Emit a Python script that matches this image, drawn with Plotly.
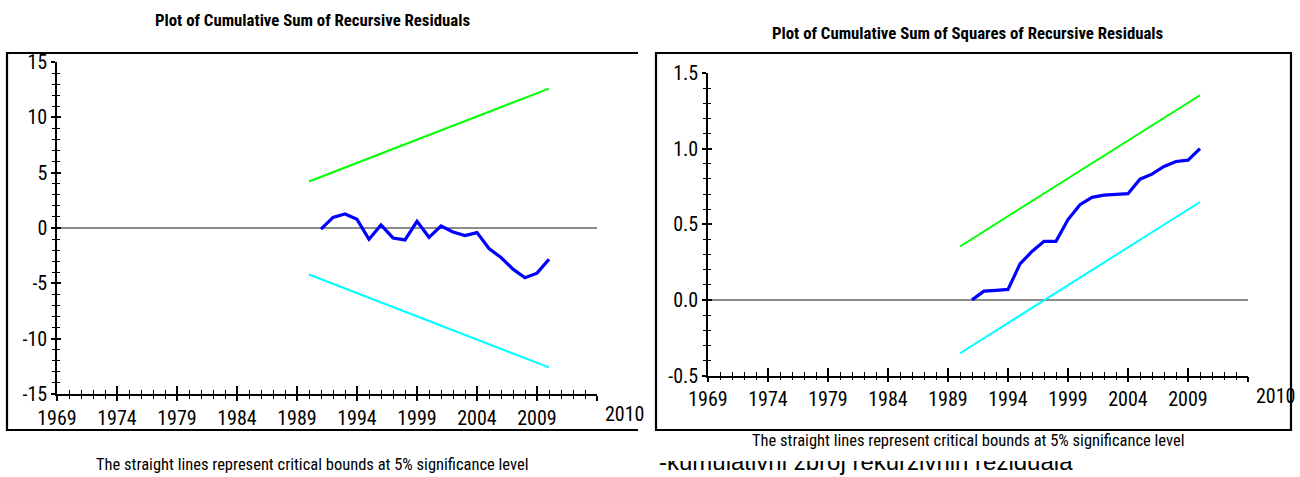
import plotly.graph_objects as go

# ---------------- data ----------------
cusum_years = [1991, 1992, 1993, 1994, 1995, 1996, 1997, 1998, 1999, 2000,
               2001, 2002, 2003, 2004, 2005, 2006, 2007, 2008, 2009, 2010]
cusum_values = [-0.1, 0.96, 1.26, 0.78, -1.02, 0.27, -0.9, -1.08, 0.6, -0.84,
                0.18, -0.36, -0.69, -0.42, -1.86, -2.67, -3.72, -4.5, -4.08, -2.82]
bound_years = [1990, 2010]
cusum_upper = [4.2, 12.6]
cusum_lower = [-4.2, -12.6]

cusumsq_years = cusum_years
cusumsq_values = [0.0, 0.058, 0.063, 0.069, 0.238, 0.32, 0.387, 0.387, 0.531, 0.629,
                  0.678, 0.693, 0.697, 0.702, 0.798, 0.831, 0.882, 0.915, 0.924, 1.0]
cusumsq_upper = [0.353, 1.353]
cusumsq_lower = [-0.353, 0.647]

tick_years = [1969, 1974, 1979, 1984, 1989, 1994, 1999, 2004, 2009, 2014]
tick_labels = ["1969", "1974", "1979", "1984", "1989", "1994", "1999", "2004", "2009", ""]
end_label = "2010"
x_range = [1969, 2014]

cusum_ticks = [-15, -10, -5, 0, 5, 10, 15]
cusum_tick_labels = ["-15", "-10", "-5", "0", "5", "10", "15"]
cusumsq_ticks = [-0.5, 0.0, 0.5, 1.0, 1.5]
cusumsq_tick_labels = ["-0.5", "0.0", "0.5", "1.0", "1.5"]

title_left = "Plot of Cumulative Sum of Recursive Residuals"
title_right = "Plot of Cumulative Sum of Squares of Recursive Residuals"
caption = "The straight lines represent critical bounds at 5% significance level"
stray_text = "-kumulativni zbroj rekurzivnih reziduala"

# ---------------- style ----------------
NARROW = "Liberation Sans Narrow, Roboto Condensed, Open Sans Condensed, DejaVu Sans Condensed, Liberation Sans, sans-serif"
W, H = 1300, 477
BLUE, GREEN, CYAN = "#0000FF", "#00FF00", "#00FFFF"

def px_x(p):
    return p / W

def px_y(p):
    return 1 - p / H

fig = go.Figure()

fig.add_trace(go.Scatter(x=bound_years, y=cusum_upper, mode="lines",
                         line=dict(color=GREEN, width=2), xaxis="x", yaxis="y"))
fig.add_trace(go.Scatter(x=bound_years, y=cusum_lower, mode="lines",
                         line=dict(color=CYAN, width=2), xaxis="x", yaxis="y"))
fig.add_trace(go.Scatter(x=cusum_years, y=cusum_values, mode="lines",
                         line=dict(color=BLUE, width=3.2), xaxis="x", yaxis="y"))
fig.add_trace(go.Scatter(x=bound_years, y=cusumsq_upper, mode="lines",
                         line=dict(color=GREEN, width=2), xaxis="x2", yaxis="y2"))
fig.add_trace(go.Scatter(x=bound_years, y=cusumsq_lower, mode="lines",
                         line=dict(color=CYAN, width=2), xaxis="x2", yaxis="y2"))
fig.add_trace(go.Scatter(x=cusumsq_years, y=cusumsq_values, mode="lines",
                         line=dict(color=BLUE, width=3.2), xaxis="x2", yaxis="y2"))
fig.add_trace(go.Scatter(x=[None], y=[None], xaxis="x3", yaxis="y3", showlegend=False))
fig.add_trace(go.Scatter(x=[None], y=[None], xaxis="x4", yaxis="y4", showlegend=False))
fig.add_trace(go.Scatter(x=[4], y=[1], mode="text", text=[stray_text],
                         textposition="top right", cliponaxis=True,
                         textfont=dict(family="Liberation Sans, Arial, sans-serif", size=24, color="#000"),
                         xaxis="x5", yaxis="y5", showlegend=False, hoverinfo="skip"))

tickfont = dict(family=NARROW, size=20, color="#000")

def xaxis_base(domain, anchor):
    return dict(domain=domain, anchor=anchor, range=x_range, showgrid=False, zeroline=False,
                automargin=False,
                showline=True, linecolor="#000", linewidth=1.5,
                tickmode="array", tickvals=tick_years, ticktext=tick_labels,
                ticks="outside", ticklen=5, tickwidth=1.5, tickcolor="#000",
                minor=dict(tickmode="linear", tick0=1969, dtick=1, ticks="outside",
                           ticklen=3, tickwidth=1, tickcolor="#000"),
                tickfont=tickfont, fixedrange=True)

def xaxis_over(over, anchor):
    return dict(overlaying=over, anchor=anchor, range=x_range, showgrid=False, zeroline=False,
                automargin=False, showline=False, showticklabels=False,
                tickmode="array", tickvals=tick_years,
                ticks="inside", ticklen=8, tickwidth=1.5, tickcolor="#000",
                minor=dict(tickmode="linear", tick0=1969, dtick=1, ticks="inside",
                           ticklen=4, tickwidth=1, tickcolor="#000"),
                fixedrange=True)

def yaxis_base(domain, anchor, rng, tv, tt, mdtick):
    return dict(domain=domain, anchor=anchor, range=rng, showgrid=False, automargin=False,
                zeroline=True, zerolinecolor="#8c8c8c", zerolinewidth=1.5,
                showline=True, linecolor="#000", linewidth=1.5,
                tickmode="array", tickvals=tv, ticktext=tt,
                ticks="outside", ticklen=4, tickwidth=1.5, tickcolor="#000",
                minor=dict(tickmode="linear", tick0=rng[0], dtick=mdtick, ticks="outside",
                           ticklen=3, tickwidth=1, tickcolor="#000"),
                tickfont=tickfont, fixedrange=True)

def yaxis_over(over, anchor, rng, tv, mdtick):
    return dict(overlaying=over, anchor=anchor, range=rng, showgrid=False, zeroline=False,
                automargin=False, showline=False, showticklabels=False,
                tickmode="array", tickvals=tv,
                ticks="inside", ticklen=4, tickwidth=1.5, tickcolor="#000",
                minor=dict(tickmode="linear", tick0=rng[0], dtick=mdtick, ticks="inside",
                           ticklen=3, tickwidth=1, tickcolor="#000"),
                fixedrange=True)

left_xd = [px_x(57), px_x(597)]
left_yd = [px_y(394), px_y(62)]
right_xd = [px_x(708), px_x(1248)]
right_yd = [px_y(375.5), px_y(73)]

fig.update_layout(
    width=W, height=H, margin=dict(l=0, r=0, t=0, b=0, pad=0, autoexpand=False),
    paper_bgcolor="white", plot_bgcolor="rgba(0,0,0,0)", showlegend=False,
    xaxis=xaxis_base(left_xd, "y"),
    yaxis=yaxis_base(left_yd, "x", [-15, 15], cusum_ticks, cusum_tick_labels, 1),
    xaxis2=xaxis_base(right_xd, "y2"),
    yaxis2=yaxis_base(right_yd, "x2", [-0.5, 1.5], cusumsq_ticks, cusumsq_tick_labels, 0.1),
    xaxis3=xaxis_over("x", "y3"),
    yaxis3=yaxis_over("y", "x3", [-15, 15], cusum_ticks, 1),
    xaxis4=xaxis_over("x2", "y4"),
    yaxis4=yaxis_over("y2", "x4", [-0.5, 1.5], cusumsq_ticks, 0.1),
    xaxis5=dict(domain=[px_x(655), px_x(1300)], anchor="y5", range=[0, 645], visible=False,
                fixedrange=True, automargin=False),
    yaxis5=dict(domain=[0, px_y(461)], anchor="x5", range=[0, 16], visible=False,
                fixedrange=True, automargin=False),
)

frame_line = dict(color="#000", width=2.2)
fig.add_shape(type="path", xref="paper", yref="paper",
              path=f"M {px_x(638)},{px_y(53)} L {px_x(7)},{px_y(53)} L {px_x(7)},{px_y(430)} L {px_x(638)},{px_y(430)}",
              line=frame_line)
fig.add_shape(type="rect", xref="paper", yref="paper",
              x0=px_x(656), x1=px_x(1291), y0=px_y(430), y1=px_y(53), line=frame_line)

ann_font_title = dict(family=NARROW, size=16.8, color="#000")
ann_font_cap = dict(family=NARROW, size=16.5, color="#000")
fig.add_annotation(text=f"<b>{title_left}</b>", xref="paper", yref="paper",
                   x=px_x(312), y=px_y(20), showarrow=False, font=ann_font_title,
                   xanchor="center", yanchor="middle")
fig.add_annotation(text=f"<b>{title_right}</b>", xref="paper", yref="paper",
                   x=px_x(968), y=px_y(33), showarrow=False, font=ann_font_title,
                   xanchor="center", yanchor="middle")
fig.add_annotation(text=caption, xref="paper", yref="paper",
                   x=px_x(312), y=px_y(464), showarrow=False, font=ann_font_cap,
                   xanchor="center", yanchor="middle")
fig.add_annotation(text=caption, xref="paper", yref="paper",
                   x=px_x(968), y=px_y(440), showarrow=False, font=ann_font_cap,
                   xanchor="center", yanchor="middle")
for xr, yr in (("x domain", "y domain"), ("x2 domain", "y2 domain")):
    fig.add_annotation(text=end_label, xref=xr, yref=yr, x=1, y=0, xshift=6, yshift=-20,
                       showarrow=False, font=tickfont, xanchor="left", yanchor="middle")

fig.write_html("out.html", config={"displayModeBar": False},
               post_script="document.body.style.margin='0px';")
